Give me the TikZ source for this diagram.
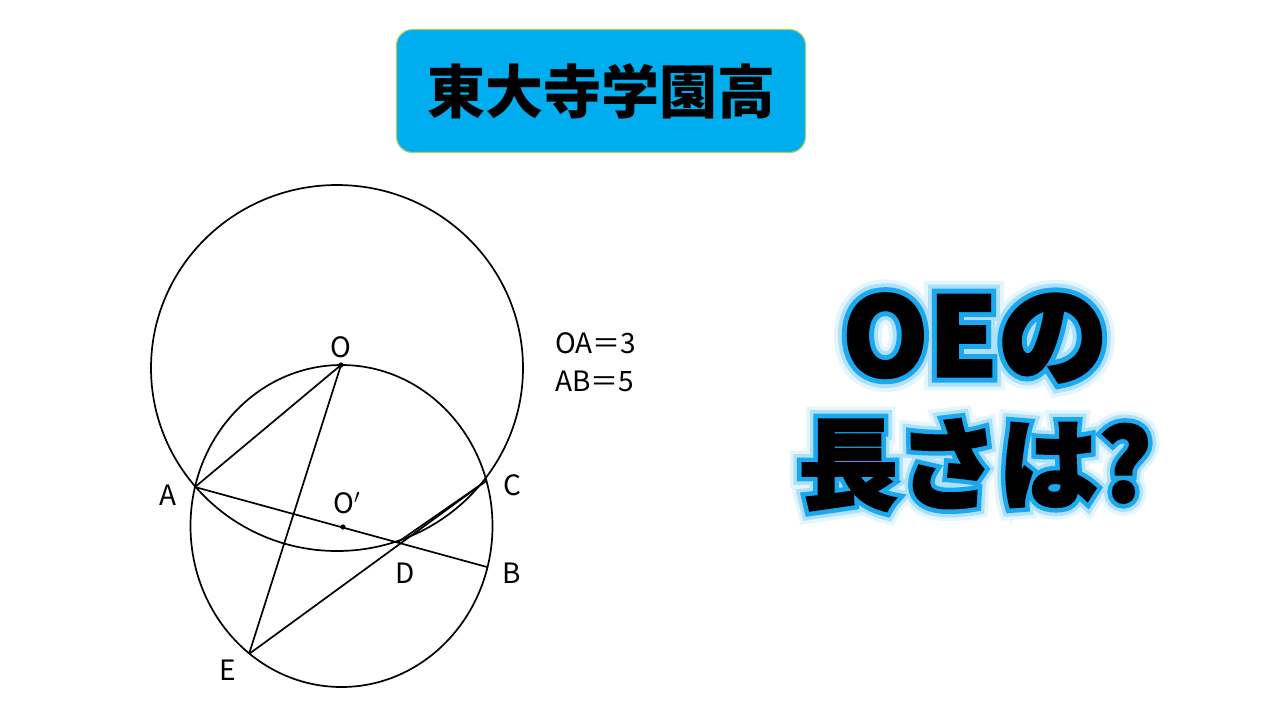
\documentclass[tikz,border=0pt]{standalone}
\usepackage{fontspec}
\newfontfamily\jpfont{Noto Sans CJK JP}
\newfontfamily\jpheavy[UprightFeatures={FakeBold=2}, BoldFeatures={FakeBold=2}]{Noto Sans CJK JP}
\newfontfamily\jphalo[UprightFeatures={FakeBold=11}, BoldFeatures={FakeBold=11}]{Noto Sans CJK JP}
\newfontfamily\jpglow[UprightFeatures={FakeBold=18}, BoldFeatures={FakeBold=18}]{Noto Sans CJK JP}
\newfontfamily\jpmist[UprightFeatures={FakeBold=25}, BoldFeatures={FakeBold=25}]{Noto Sans CJK JP}
\definecolor{titlecyan}{HTML}{00AEEF}
\definecolor{titleedge}{HTML}{A5CF6A}
\definecolor{glowblue}{HTML}{1AA8F0}

\begin{document}
\begin{tikzpicture}[x=0.5pt, y=-0.5pt,
  geo/.style={line width=0.85pt},
  lbl/.style={font=\jpfont\fontsize{14}{16}\selectfont, inner sep=0pt},
  dotmark/.style={circle, fill, inner sep=0pt, minimum size=2.6pt},
  titlebox/.style={rounded corners=8pt, fill=titlecyan, draw=titleedge, line width=0.6pt,
    minimum width=204.5pt, minimum height=61.5pt,
    font=\jpfont\bfseries\fontsize{29}{29}\selectfont},
  sizeA/.style={inner sep=0pt, font=#1\bfseries\fontsize{55}{55}\selectfont},
  sizeB/.style={inner sep=0pt, font=#1\bfseries\fontsize{50}{50}\selectfont}]
  \useasboundingbox[fill=white] (0,0) rectangle (1280,720);

  % title
  \node[titlebox] (title) at (601,91) {東大寺学園高};

  % points
  \coordinate (O) at (341,365);
  \coordinate (A) at (195,487);
  \coordinate (B) at (487,567);
  \coordinate (C) at (486,481);
  \coordinate (D) at (398,542);
  \coordinate (E) at (249,654);
  \coordinate (Op) at (343,527);

  % circles
  \draw[geo] (337,368) ellipse [x radius=93pt, y radius=91.5pt];
  \draw[geo] (341.5,526) ellipse [x radius=75.5pt, y radius=80.5pt];

  % segments
  \draw[geo] (O) -- (A);
  \draw[geo] (O) -- (E);
  \draw[geo] (A) -- (B);
  \draw[geo] (E) -- (C);
  \draw[geo] (D) -- (C);
  \node[dotmark] (dO) at (O) {};
  \node[dotmark] (dOp) at (Op) {};

  % labels
  \node[lbl] (lO) at (341,347) {O};
  \node[lbl] (lA) at (168,495) {A};
  \node[lbl] (lOp) at (347,503) {O$'$};
  \node[lbl] (lC) at (512,485) {C};
  \node[lbl] (lD) at (405,573) {D};
  \node[lbl] (lB) at (512,573) {B};
  \node[lbl] (lE) at (228,670) {E};
  \node[lbl, anchor=west] (oa) at (555,343) {OA＝3};
  \node[lbl, anchor=west] (ab) at (555,381) {AB＝5};

  % question with glow
  \node[sizeA=\jpmist, text=glowblue!12] (ma) at (975,338) {OEの};
  \node[sizeB=\jpmist, text=glowblue!12] (mb) at (975,465) {長さは?};
  \node[sizeA=\jpglow, text=glowblue!35] (ga) at (975,338) {OEの};
  \node[sizeB=\jpglow, text=glowblue!35] (gb) at (975,465) {長さは?};
  \node[sizeA=\jphalo, text=glowblue] (ha) at (975,338) {OEの};
  \node[sizeB=\jphalo, text=glowblue] (hb) at (975,465) {長さは?};
  \node[sizeA=\jpheavy] (q1) at (975,338) {OEの};
  \node[sizeB=\jpheavy] (q2) at (975,465) {長さは?};
\end{tikzpicture}
\end{document}
